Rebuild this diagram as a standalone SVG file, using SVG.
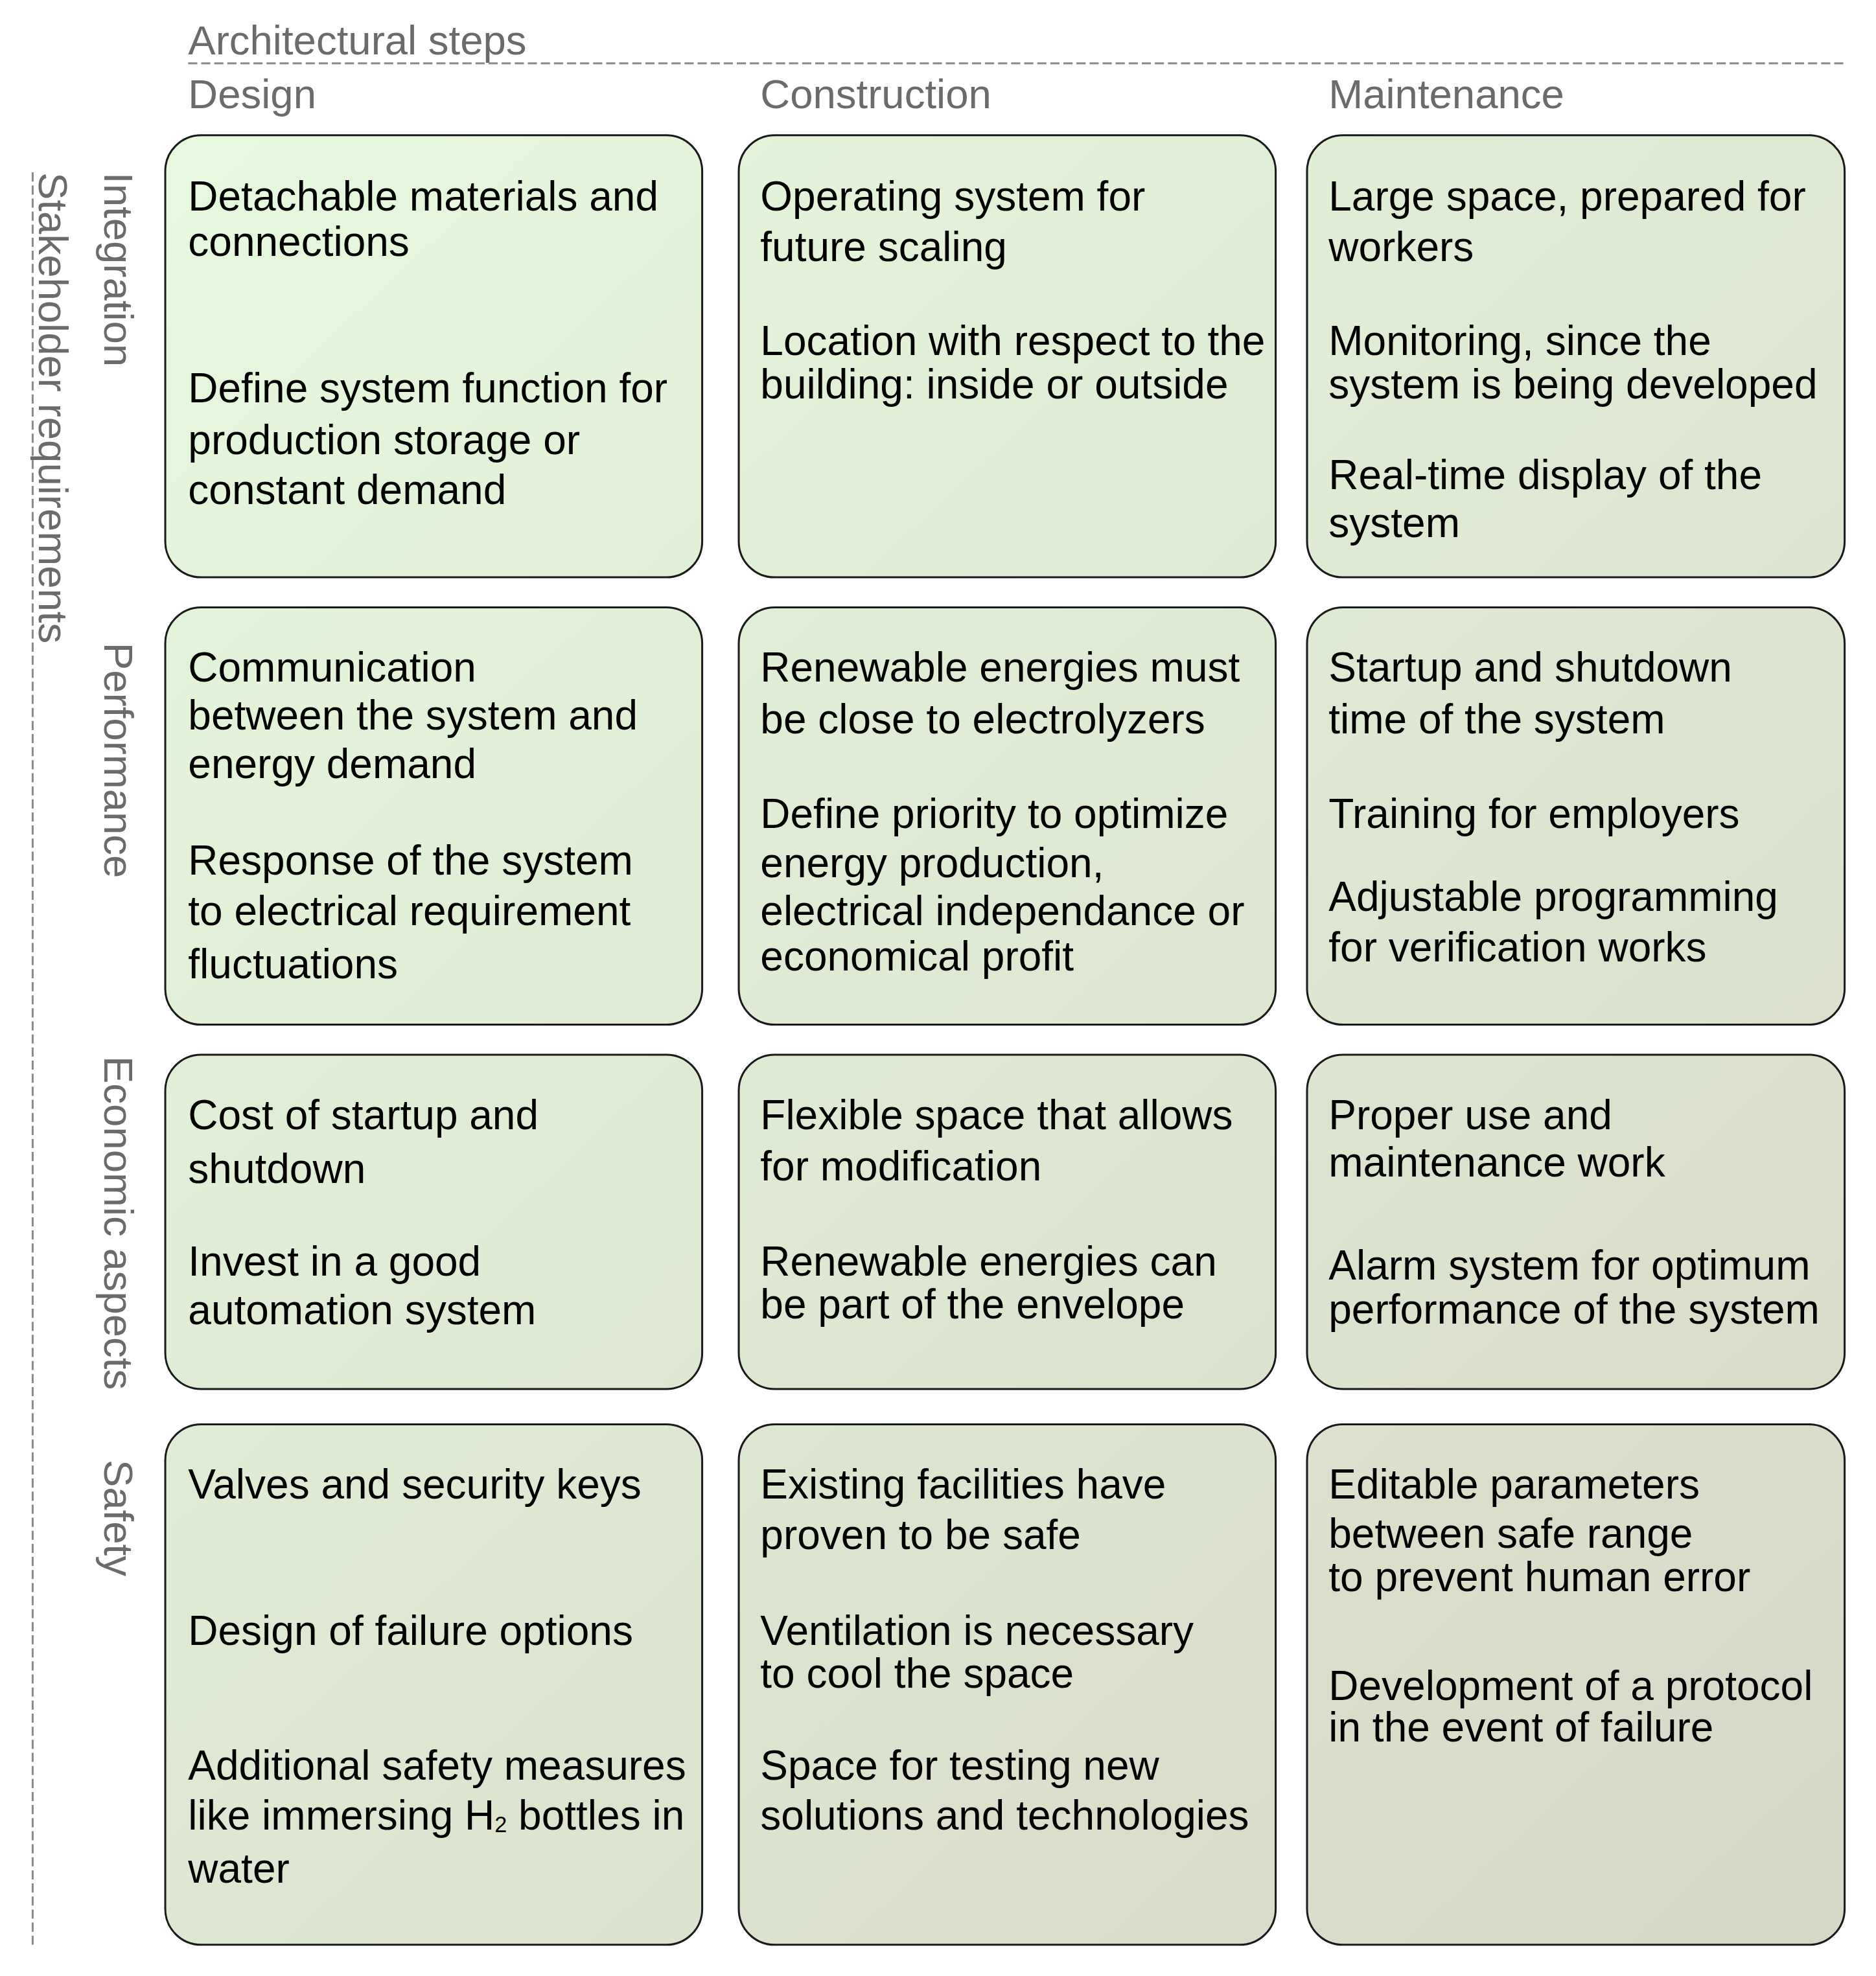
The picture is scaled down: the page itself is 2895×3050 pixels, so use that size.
<svg xmlns="http://www.w3.org/2000/svg" width="2895" height="3050" viewBox="0 0 2895 3050">
<style>
.h{font-family:"Liberation Sans",Arial,sans-serif;font-size:63px;fill:#6b6b6b}
.t{font-family:"Liberation Sans",Arial,sans-serif;font-size:63.5px;fill:#000}
.b{stroke:#1a1a1a;stroke-width:3;fill:url(#g)}
.d{stroke:#8a8a8a;stroke-width:3;stroke-dasharray:14 6;fill:none}
</style>
<defs>
<linearGradient id="g" gradientUnits="userSpaceOnUse" x1="253" y1="207" x2="2824" y2="2978">
<stop offset="0" stop-color="#e6f9de"/><stop offset="1" stop-color="#d6d7c6"/>
</linearGradient>
</defs>
<rect width="2895" height="3050" fill="#fff"/>
<g transform="scale(1.008)">
<g id="headers">
<text class="h" x="288" y="83">Architectural steps</text>
<line class="d" x1="288" y1="97" x2="2824" y2="97"/>
<text class="h" x="288" y="166">Design</text>
<text class="h" x="1164" y="166">Construction</text>
<text class="h" x="2034" y="166">Maintenance</text>
<line class="d" x1="50" y1="264" x2="50" y2="2982"/>
<text class="h" transform="translate(60,264) rotate(90)">Stakeholder requirements</text>
<text class="h" transform="translate(160,264) rotate(90)">Integration</text>
<text class="h" transform="translate(160,984) rotate(90)">Performance</text>
<text class="h" transform="translate(160,1617) rotate(90)">Economic aspects</text>
<text class="h" transform="translate(160,2235) rotate(90)">Safety</text>
</g>
<g id="r1c1"><rect class="b" x="253" y="207" width="822" height="677" rx="55"/>
<text class="t" x="288" y="322">Detachable materials and</text><text class="t" x="288" y="392">connections</text>
<text class="t" x="288" y="616">Define system function for</text><text class="t" x="288" y="695">production storage or</text><text class="t" x="288" y="772">constant demand</text></g>
<g id="r1c2"><rect class="b" x="1131" y="207" width="822" height="677" rx="55"/>
<text class="t" x="1164" y="322">Operating system for</text><text class="t" x="1164" y="400">future scaling</text>
<text class="t" x="1164" y="544">Location with respect to the</text><text class="t" x="1164" y="610">building: inside or outside</text></g>
<g id="r1c3"><rect class="b" x="2001" y="207" width="823" height="677" rx="55"/>
<text class="t" x="2034" y="322">Large space, prepared for</text><text class="t" x="2034" y="400">workers</text>
<text class="t" x="2034" y="544">Monitoring, since the</text><text class="t" x="2034" y="610">system is being developed</text>
<text class="t" x="2034" y="749">Real-time display of the</text><text class="t" x="2034" y="822">system</text></g>
<g id="r2c1"><rect class="b" x="253" y="930" width="822" height="639" rx="55"/>
<text class="t" x="288" y="1044">Communication</text><text class="t" x="288" y="1117">between the system and</text><text class="t" x="288" y="1191">energy demand</text>
<text class="t" x="288" y="1339">Response of the system</text><text class="t" x="288" y="1417">to electrical requirement</text><text class="t" x="288" y="1498">fluctuations</text></g>
<g id="r2c2"><rect class="b" x="1131" y="930" width="822" height="639" rx="55"/>
<text class="t" x="1164" y="1044">Renewable energies must</text><text class="t" x="1164" y="1123">be close to electrolyzers</text>
<text class="t" x="1164" y="1268">Define priority to optimize</text><text class="t" x="1164" y="1343">energy production,</text><text class="t" x="1164" y="1417">electrical independance or</text><text class="t" x="1164" y="1486">economical profit</text></g>
<g id="r2c3"><rect class="b" x="2001" y="930" width="823" height="639" rx="55"/>
<text class="t" x="2034" y="1044">Startup and shutdown</text><text class="t" x="2034" y="1123">time of the system</text>
<text class="t" x="2034" y="1268">Training for employers</text>
<text class="t" x="2034" y="1395">Adjustable programming</text><text class="t" x="2034" y="1472">for verification works</text></g>
<g id="r3c1"><rect class="b" x="253" y="1615" width="822" height="512" rx="55"/>
<text class="t" x="288" y="1729">Cost of startup and</text><text class="t" x="288" y="1812">shutdown</text>
<text class="t" x="288" y="1953">Invest in a good</text><text class="t" x="288" y="2028">automation system</text></g>
<g id="r3c2"><rect class="b" x="1131" y="1615" width="822" height="512" rx="55"/>
<text class="t" x="1164" y="1729">Flexible space that allows</text><text class="t" x="1164" y="1808">for modification</text>
<text class="t" x="1164" y="1953">Renewable energies can</text><text class="t" x="1164" y="2019">be part of the envelope</text></g>
<g id="r3c3"><rect class="b" x="2001" y="1615" width="823" height="512" rx="55"/>
<text class="t" x="2034" y="1729">Proper use and</text><text class="t" x="2034" y="1802">maintenance work</text>
<text class="t" x="2034" y="1959">Alarm system for optimum</text><text class="t" x="2034" y="2027">performance of the system</text></g>
<g id="r4c1"><rect class="b" x="253" y="2181" width="822" height="797" rx="55"/>
<text class="t" x="288" y="2295">Valves and security keys</text>
<text class="t" x="288" y="2519">Design of failure options</text>
<text class="t" x="288" y="2725">Additional safety measures</text><text class="t" x="288" y="2802">like immersing H<tspan font-size="34" dy="4">2</tspan><tspan dy="-4"> bottles in</tspan></text><text class="t" x="288" y="2883">water</text></g>
<g id="r4c2"><rect class="b" x="1131" y="2181" width="822" height="797" rx="55"/>
<text class="t" x="1164" y="2295">Existing facilities have</text><text class="t" x="1164" y="2372">proven to be safe</text>
<text class="t" x="1164" y="2519">Ventilation is necessary</text><text class="t" x="1164" y="2584">to cool the space</text>
<text class="t" x="1164" y="2725">Space for testing new</text><text class="t" x="1164" y="2802">solutions and technologies</text></g>
<g id="r4c3"><rect class="b" x="2001" y="2181" width="823" height="797" rx="55"/>
<text class="t" x="2034" y="2295">Editable parameters</text><text class="t" x="2034" y="2370">between safe range</text><text class="t" x="2034" y="2437">to prevent human error</text>
<text class="t" x="2034" y="2603">Development of a protocol</text><text class="t" x="2034" y="2667">in the event of failure</text></g>
<g id="connectors"/>
</g>
</svg>
